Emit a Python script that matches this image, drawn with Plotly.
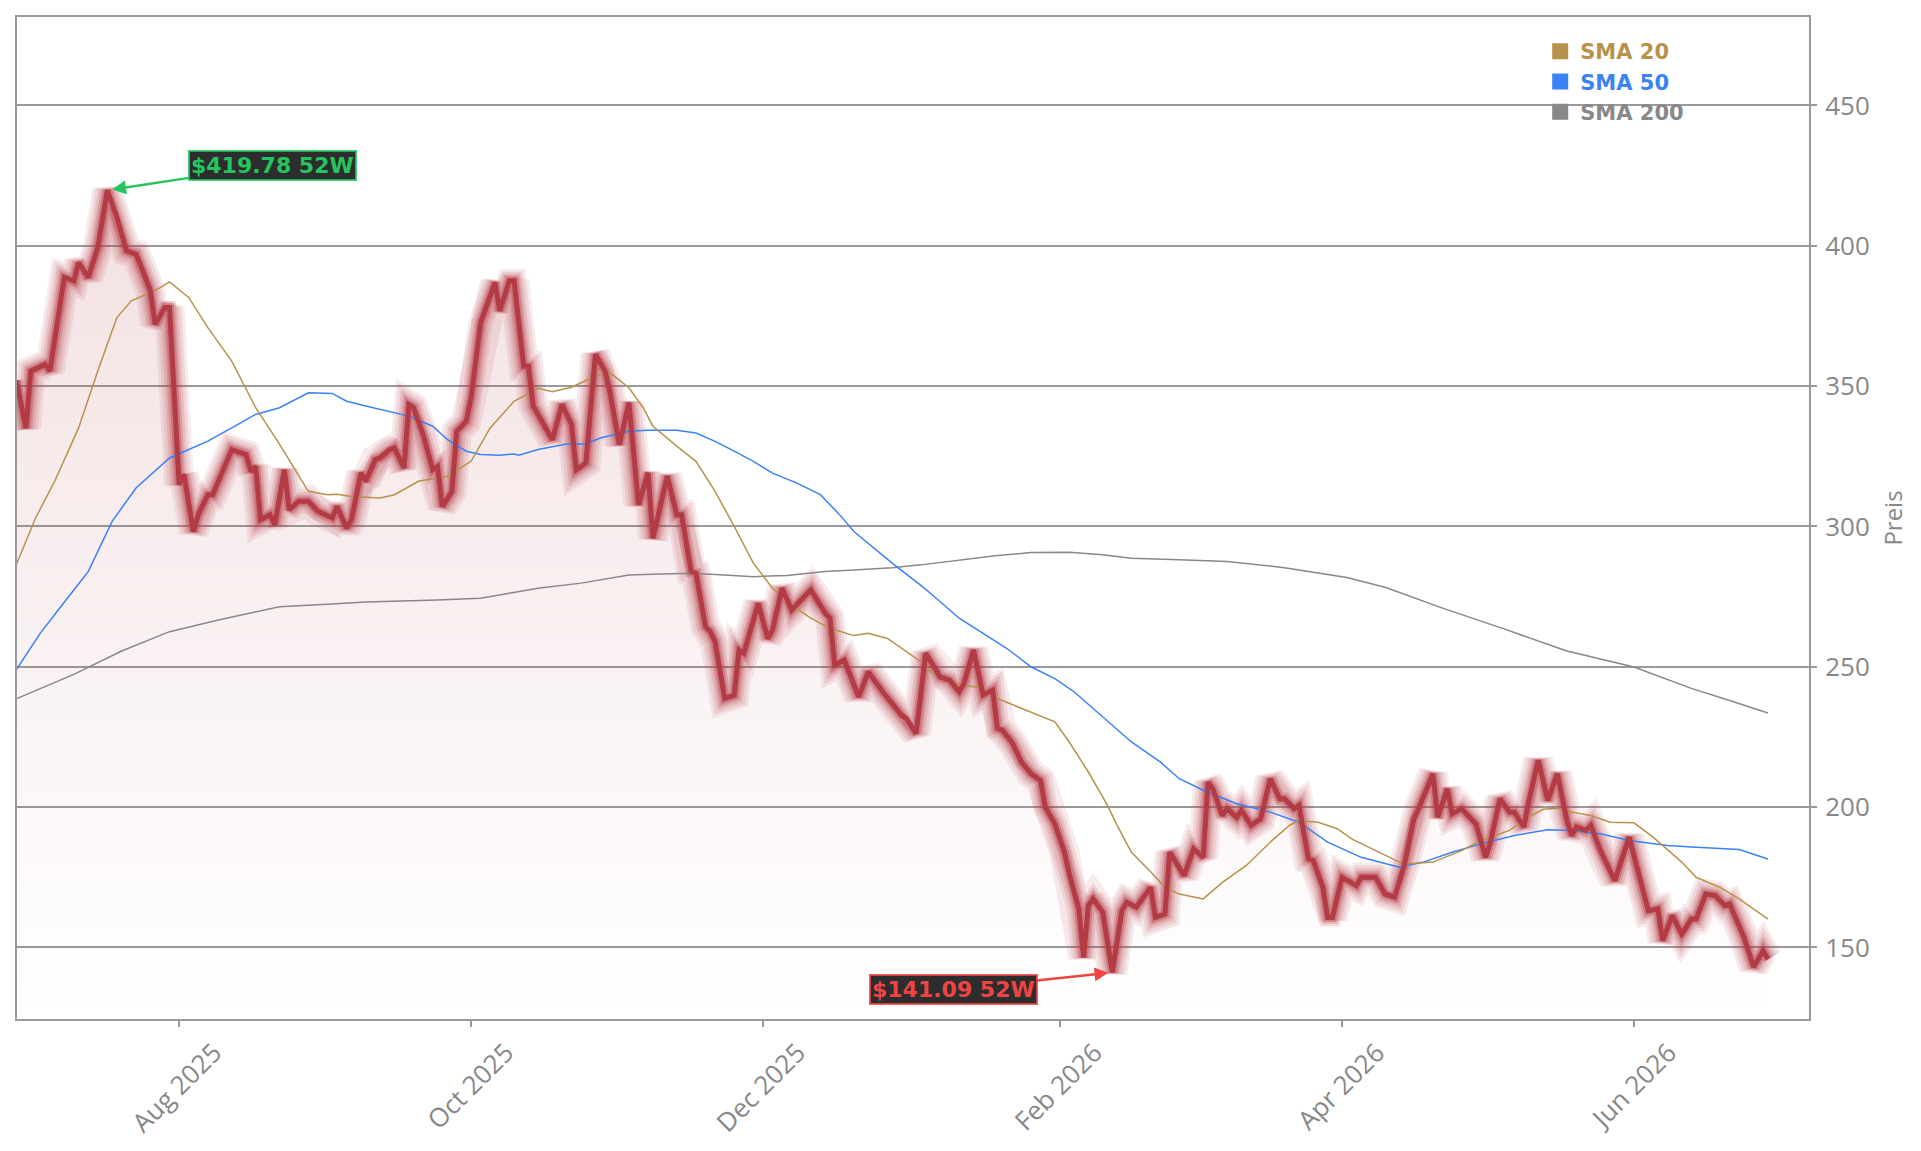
import plotly.graph_objects as go

# ---------------- data ----------------
price_dates = [
    "2025-06-28", "2025-06-30", "2025-07-01", "2025-07-04", "2025-07-05", "2025-07-08", "2025-07-10",
    "2025-07-11", "2025-07-13", "2025-07-15", "2025-07-17", "2025-07-19", "2025-07-21", "2025-07-23",
    "2025-07-24", "2025-07-26", "2025-07-27", "2025-07-29", "2025-07-30", "2025-08-01", "2025-08-02",
    "2025-08-04", "2025-08-05", "2025-08-07", "2025-08-08", "2025-08-10", "2025-08-12", "2025-08-15",
    "2025-08-16", "2025-08-17", "2025-08-18", "2025-08-20", "2025-08-21", "2025-08-23", "2025-08-24",
    "2025-08-26", "2025-08-28", "2025-08-30", "2025-09-02", "2025-09-03", "2025-09-05", "2025-09-06",
    "2025-09-08", "2025-09-09", "2025-09-11", "2025-09-12", "2025-09-14", "2025-09-15", "2025-09-17",
    "2025-09-18", "2025-09-19", "2025-09-21", "2025-09-23", "2025-09-24", "2025-09-25", "2025-09-27",
    "2025-09-28", "2025-09-30", "2025-10-01", "2025-10-03", "2025-10-06", "2025-10-07", "2025-10-09",
    "2025-10-10", "2025-10-12", "2025-10-13", "2025-10-14", "2025-10-18", "2025-10-20", "2025-10-22",
    "2025-10-23", "2025-10-25", "2025-10-27", "2025-10-29", "2025-10-30", "2025-11-01", "2025-11-03",
    "2025-11-05", "2025-11-07", "2025-11-08", "2025-11-11", "2025-11-13", "2025-11-14", "2025-11-16",
    "2025-11-17", "2025-11-19", "2025-11-20", "2025-11-21", "2025-11-23", "2025-11-25", "2025-11-26",
    "2025-11-27", "2025-11-30", "2025-12-02", "2025-12-03", "2025-12-05", "2025-12-07", "2025-12-11",
    "2025-12-12", "2025-12-14", "2025-12-15", "2025-12-16", "2025-12-18", "2025-12-21", "2025-12-23",
    "2025-12-26", "2025-12-30", "2025-12-31", "2026-01-02", "2026-01-04", "2026-01-07", "2026-01-09",
    "2026-01-11", "2026-01-12", "2026-01-14", "2026-01-16", "2026-01-18", "2026-01-19", "2026-01-20",
    "2026-01-22", "2026-01-24", "2026-01-26", "2026-01-28", "2026-01-29", "2026-01-31", "2026-02-02",
    "2026-02-03", "2026-02-05", "2026-02-06", "2026-02-07", "2026-02-08", "2026-02-10", "2026-02-11",
    "2026-02-12", "2026-02-14", "2026-02-15", "2026-02-17", "2026-02-20", "2026-02-21", "2026-02-23",
    "2026-02-24", "2026-02-27", "2026-03-01", "2026-03-03", "2026-03-04", "2026-03-05", "2026-03-07",
    "2026-03-08", "2026-03-10", "2026-03-11", "2026-03-13", "2026-03-15", "2026-03-17", "2026-03-19",
    "2026-03-20", "2026-03-22", "2026-03-23", "2026-03-25", "2026-03-26", "2026-03-28", "2026-03-29",
    "2026-03-30", "2026-04-01", "2026-04-04", "2026-04-05", "2026-04-08", "2026-04-10", "2026-04-12",
    "2026-04-14", "2026-04-16", "2026-04-17", "2026-04-20", "2026-04-21", "2026-04-23", "2026-04-24",
    "2026-04-26", "2026-04-29", "2026-05-01", "2026-05-02", "2026-05-04", "2026-05-06", "2026-05-07",
    "2026-05-09", "2026-05-10", "2026-05-12", "2026-05-14", "2026-05-16", "2026-05-18", "2026-05-19",
    "2026-05-20", "2026-05-22", "2026-05-23", "2026-05-25", "2026-05-28", "2026-05-31", "2026-06-02",
    "2026-06-04", "2026-06-06", "2026-06-07", "2026-06-09", "2026-06-11", "2026-06-13", "2026-06-14",
    "2026-06-16", "2026-06-18", "2026-06-20", "2026-06-21", "2026-06-24", "2026-06-26", "2026-06-28",
    "2026-06-29",
]
price_values = [
    352.0, 335.0, 355.4, 357.7, 355.4, 388.7, 387.5,
    394.0, 388.7, 399.4, 419.78, 410.1, 398.2, 397.0,
    392.9, 383.9, 372.0, 378.0, 378.0, 314.9, 318.5,
    298.2, 304.2, 311.3, 311.3, 319.6, 327.4, 325.6,
    319.6, 321.4, 302.4, 304.2, 300.6, 320.2, 306.0,
    309.0, 309.0, 305.4, 303.0, 307.1, 299.4, 302.4,
    319.0, 316.1, 323.8, 324.4, 327.4, 328.0, 320.8,
    343.4, 342.3, 332.7, 320.2, 321.4, 307.1, 312.5,
    333.9, 337.5, 345.8, 372.6, 386.9, 376.8, 387.5,
    387.5, 357.1, 357.1, 342.9, 330.9, 343.5, 336.3,
    320.2, 322.6, 361.3, 355.4, 348.2, 329.2, 344.1,
    307.7, 319.1, 295.8, 317.9, 304.2, 304.2, 283.9,
    283.3, 264.3, 262.5, 258.9, 238.7, 239.9, 256.0,
    254.8, 272.6, 260.1, 263.1, 278.0, 270.2, 277.4,
    274.4, 269.1, 267.3, 250.6, 252.4, 239.3, 248.2,
    241.1, 232.7, 231.5, 226.2, 254.8, 246.4, 245.2,
    241.1, 244.0, 256.0, 239.9, 241.7, 228.0, 227.4,
    223.2, 216.1, 211.9, 209.5, 200.0, 194.0, 183.9,
    176.2, 163.7, 146.4, 164.9, 167.3, 162.5, 151.8,
    141.09, 163.1, 166.1, 164.3, 171.4, 160.7, 161.9,
    183.9, 175.6, 185.1, 182.1, 208.9, 206.5, 197.0,
    199.4, 196.4, 198.8, 193.5, 195.8, 210.1, 203.0,
    203.0, 199.4, 200.6, 181.5, 181.0, 171.4, 160.7,
    160.7, 175.0, 172.0, 175.0, 175.0, 169.0, 167.9,
    179.2, 195.8, 199.4, 211.9, 196.4, 206.5, 197.6,
    199.4, 194.0, 182.1, 187.5, 203.0, 198.2, 198.2,
    192.9, 201.8, 216.7, 202.4, 211.9, 195.2, 189.9,
    192.9, 191.7, 193.5, 184.5, 173.8, 189.3, 175.6,
    163.1, 163.7, 152.4, 161.3, 154.8, 160.1, 160.1,
    169.0, 168.5, 164.9, 165.5, 153.6, 143.0, 148.8,
    145.8,
]

sma20_dates = [
    "2025-06-28", "2025-07-02", "2025-07-06", "2025-07-11", "2025-07-15", "2025-07-19", "2025-07-22",
    "2025-07-27", "2025-07-30", "2025-08-03", "2025-08-07", "2025-08-12", "2025-08-17", "2025-08-22",
    "2025-08-28", "2025-09-01", "2025-09-03", "2025-09-06", "2025-09-12", "2025-09-15", "2025-09-20",
    "2025-09-26", "2025-10-01", "2025-10-05", "2025-10-10", "2025-10-15", "2025-10-18", "2025-10-22",
    "2025-10-24", "2025-10-27", "2025-10-30", "2025-11-03", "2025-11-06", "2025-11-08", "2025-11-13",
    "2025-11-17", "2025-11-21", "2025-11-25", "2025-11-29", "2025-12-03", "2025-12-07", "2025-12-11",
    "2025-12-15", "2025-12-20", "2025-12-23", "2025-12-27", "2025-12-31", "2026-01-03", "2026-01-05",
    "2026-01-11", "2026-01-16", "2026-01-19", "2026-01-25", "2026-01-31", "2026-02-03", "2026-02-07",
    "2026-02-11", "2026-02-13", "2026-02-16", "2026-02-20", "2026-02-23", "2026-02-26", "2026-03-03",
    "2026-03-07", "2026-03-12", "2026-03-17", "2026-03-21", "2026-03-23", "2026-03-27", "2026-03-31",
    "2026-04-03", "2026-04-08", "2026-04-13", "2026-04-15", "2026-04-20", "2026-04-26", "2026-04-30",
    "2026-05-06", "2026-05-10", "2026-05-13", "2026-05-16", "2026-05-19", "2026-05-23", "2026-05-27",
    "2026-06-01", "2026-06-05", "2026-06-11", "2026-06-14", "2026-06-19", "2026-06-23", "2026-06-29",
]
sma20_values = [
    286.5, 303.0, 316.1, 335.1, 355.4, 374.4, 380.4,
    384.0, 387.1, 381.6, 370.8, 358.9, 342.3, 329.2,
    312.5, 311.3, 311.5, 310.7, 310.1, 311.3, 316.1,
    317.9, 323.2, 335.1, 344.6, 349.2, 348.0, 349.6,
    351.2, 353.6, 354.8, 349.4, 342.2, 335.7, 328.6,
    323.2, 312.5, 300.0, 286.9, 278.0, 272.0, 267.3,
    263.7, 261.1, 261.9, 260.1, 255.4, 251.8, 248.2,
    243.5, 242.5, 238.7, 234.5, 230.4, 223.2, 212.5,
    200.6, 193.5, 183.9, 177.0, 171.4, 169.0, 167.3,
    173.2, 179.2, 187.5, 193.5, 195.2, 194.6, 192.3,
    188.7, 184.5, 180.4, 179.8, 180.4, 184.5, 188.1,
    191.7, 196.4, 199.2, 199.6, 198.2, 197.0, 194.6,
    194.4, 189.3, 180.4, 175.0, 171.4, 167.3, 160.1,
]

sma50_dates = [
    "2025-06-28", "2025-07-03", "2025-07-08", "2025-07-13", "2025-07-18", "2025-07-23", "2025-07-30",
    "2025-08-03", "2025-08-07", "2025-08-12", "2025-08-17", "2025-08-22", "2025-08-26", "2025-08-28",
    "2025-09-02", "2025-09-05", "2025-09-09", "2025-09-12", "2025-09-18", "2025-09-23", "2025-09-26",
    "2025-09-30", "2025-10-03", "2025-10-07", "2025-10-10", "2025-10-11", "2025-10-15", "2025-10-21",
    "2025-10-25", "2025-10-28", "2025-11-03", "2025-11-07", "2025-11-13", "2025-11-17", "2025-11-21",
    "2025-11-25", "2025-11-29", "2025-12-03", "2025-12-08", "2025-12-13", "2025-12-17", "2025-12-20",
    "2025-12-24", "2025-12-28", "2026-01-03", "2026-01-05", "2026-01-11", "2026-01-16", "2026-01-21",
    "2026-01-26", "2026-01-31", "2026-02-04", "2026-02-08", "2026-02-12", "2026-02-16", "2026-02-22",
    "2026-02-26", "2026-03-03", "2026-03-10", "2026-03-17", "2026-03-23", "2026-03-29", "2026-04-05",
    "2026-04-13", "2026-04-18", "2026-04-24", "2026-04-30", "2026-05-07", "2026-05-14", "2026-05-19",
    "2026-05-25", "2026-05-31", "2026-06-08", "2026-06-14", "2026-06-23", "2026-06-29",
]
sma50_values = [
    249.0, 262.0, 273.0, 283.9, 301.8, 313.7, 324.4,
    327.4, 330.4, 335.1, 339.9, 342.3, 345.8, 347.6,
    347.4, 344.6, 342.9, 341.7, 339.3, 335.7, 331.0,
    326.8, 325.6, 325.4, 325.8, 325.4, 327.4, 329.4,
    329.4, 331.5, 333.9, 334.3, 334.3, 333.3, 330.3,
    326.8, 323.2, 319.0, 315.5, 311.3, 304.2, 298.2,
    292.5, 286.9, 279.0, 276.2, 267.3, 261.9, 256.5,
    250.0, 245.8, 241.1, 235.1, 229.2, 223.2, 216.1,
    210.1, 206.0, 201.2, 198.2, 194.6, 187.5, 182.1,
    178.6, 180.4, 183.9, 186.9, 189.9, 191.9, 191.7,
    190.5, 188.1, 186.3, 185.7, 184.9, 181.5,
]

sma200_dates = [
    "2025-06-28", "2025-07-10", "2025-07-20", "2025-07-30", "2025-08-09", "2025-08-22", "2025-09-01",
    "2025-09-09", "2025-09-24", "2025-10-03", "2025-10-09", "2025-10-15", "2025-10-24", "2025-10-28",
    "2025-11-03", "2025-11-08", "2025-11-16", "2025-11-23", "2025-11-29", "2025-12-06", "2025-12-14",
    "2025-12-20", "2025-12-28", "2026-01-03", "2026-01-12", "2026-01-19", "2026-01-26", "2026-02-03",
    "2026-02-10", "2026-02-16", "2026-02-26", "2026-03-08", "2026-03-20", "2026-04-02", "2026-04-10",
    "2026-04-22", "2026-05-05", "2026-05-18", "2026-06-01", "2026-06-13", "2026-06-21", "2026-06-29",
]
sma200_values = [
    238.6, 247.3, 255.6, 262.5, 266.6, 271.4, 272.3,
    273.1, 273.8, 274.4, 276.2, 278.0, 279.8, 281.0,
    282.7, 283.0, 283.3, 282.7, 282.1, 282.5, 283.9,
    284.5, 285.3, 286.3, 288.1, 289.6, 290.7, 290.8,
    289.9, 288.7, 288.1, 287.5, 285.3, 281.8, 278.3,
    270.9, 263.4, 255.6, 249.9, 242.3, 238.0, 233.5,
]

high_label = "$419.78 52W"
low_label = "$141.09 52W"
high_date, high_value = "2025-07-17", 419.78
low_date, low_value = "2026-02-12", 141.09

x_ticks = ["2025-08-01", "2025-10-01", "2025-12-01", "2026-02-01", "2026-04-01", "2026-06-01"]
x_tick_text = ["Aug 2025", "Oct 2025", "Dec 2025", "Feb 2026", "Apr 2026", "Jun 2026"]
y_ticks = [150, 200, 250, 300, 350, 400, 450]

# ---------------- styling ----------------
PRICE = "#b33b45"
GOLD = "#b8924a"
BLUE = "#3b82f6"
GREY = "#888888"
AXIS = "#9a9a9a"

fig = go.Figure()

# gradient area under price
fig.add_trace(go.Scatter(
    x=price_dates, y=price_values, mode="lines", line=dict(width=0),
    fill="tozeroy",
    fillgradient=dict(type="vertical", start=124.5, stop=425,
                      colorscale=[[0, "rgba(180,60,70,0.0)"], [1, "rgba(180,60,70,0.16)"]]),
    showlegend=False, hoverinfo="skip",
))

# glow layers
for w, a in [(30, 0.10), (24, 0.12), (18, 0.16), (13, 0.22), (9, 0.35)]:
    fig.add_trace(go.Scatter(
        x=price_dates, y=price_values, mode="lines",
        line=dict(color=f"rgba(180,60,70,{a})", width=w),
        showlegend=False, hoverinfo="skip",
    ))

# moving averages
fig.add_trace(go.Scatter(x=sma200_dates, y=sma200_values, mode="lines",
                         line=dict(color=GREY, width=1.5), showlegend=False))
fig.add_trace(go.Scatter(x=sma50_dates, y=sma50_values, mode="lines",
                         line=dict(color=BLUE, width=1.5), showlegend=False))
fig.add_trace(go.Scatter(x=sma20_dates, y=sma20_values, mode="lines",
                         line=dict(color=GOLD, width=1.5), showlegend=False))

# main price line
fig.add_trace(go.Scatter(x=price_dates, y=price_values, mode="lines",
                         line=dict(color=PRICE, width=5), showlegend=False))

# legend entries (square markers)
for name, col in [("SMA 20", GOLD), ("SMA 50", BLUE), ("SMA 200", GREY)]:
    fig.add_trace(go.Scatter(
        x=[None], y=[None], mode="markers",
        marker=dict(symbol="square", size=18, color=col),
        name=f'<b><span style="color:{col}">{name}</span></b>',
    ))

ann_font = dict(family="DejaVu Sans", size=22)
fig.add_annotation(
    x=high_date, y=high_value, text=f"<b>{high_label}</b>",
    showarrow=True, arrowhead=2, arrowsize=1.1, arrowwidth=2.5, arrowcolor="#22c55e",
    ax=165, ay=-25, standoff=5,
    font=dict(color="#22c55e", **ann_font),
    bgcolor="#2d2d2d", bordercolor="rgba(34,197,94,0.85)", borderwidth=2, borderpad=1,
)
fig.add_annotation(
    x=low_date, y=low_value, text=f"<b>{low_label}</b>",
    showarrow=True, arrowhead=2, arrowsize=1.1, arrowwidth=2.5, arrowcolor="#ef4444",
    ax=-159, ay=17, standoff=4,
    font=dict(color="#ef4444", **ann_font),
    bgcolor="#2d2d2d", bordercolor="rgba(239,68,68,0.85)", borderwidth=2, borderpad=1,
)

fig.update_layout(
    width=1921, height=1151, autosize=False,
    margin=dict(l=17, r=112, t=17, b=132),
    paper_bgcolor="white", plot_bgcolor="white",
    font=dict(family="Open Sans", color="#888888"),
    legend=dict(x=0.850, y=0.986, xanchor="left", yanchor="top",
                bgcolor="rgba(0,0,0,0)", font=dict(family="DejaVu Sans", size=21),
                tracegroupgap=0),
    hovermode=False,
)
fig.update_xaxes(
    type="date", range=["2025-06-28 03:00", "2026-07-07 14:00"], automargin=False,
    tickvals=x_ticks, ticktext=x_tick_text, tickangle=-45,
    tickfont=dict(size=26, color="#888888"), ticklabelshift=35,
    ticks="outside", ticklen=6, tickwidth=1.5, tickcolor=AXIS,
    showgrid=False, zeroline=False,
    showline=True, linecolor=AXIS, linewidth=2, mirror=True,
)
fig.update_yaxes(
    side="right", range=[124.5, 481.5], tickvals=y_ticks, automargin=False,
    tickfont=dict(size=26, color="#888888"), ticklabelstandoff=3,
    ticks="outside", ticklen=6, tickwidth=1.5, tickcolor=AXIS,
    showgrid=True, gridcolor=AXIS, gridwidth=1.5, zeroline=False,
    showline=True, linecolor=AXIS, linewidth=2, mirror=True,
    title=dict(text="Preis", font=dict(size=24, color="#888888"), standoff=16),
)

assert len(price_dates) == len(price_values)
assert len(sma20_dates) == len(sma20_values)
assert len(sma50_dates) == len(sma50_values)
assert len(sma200_dates) == len(sma200_values)

fig.write_html("out.html")
